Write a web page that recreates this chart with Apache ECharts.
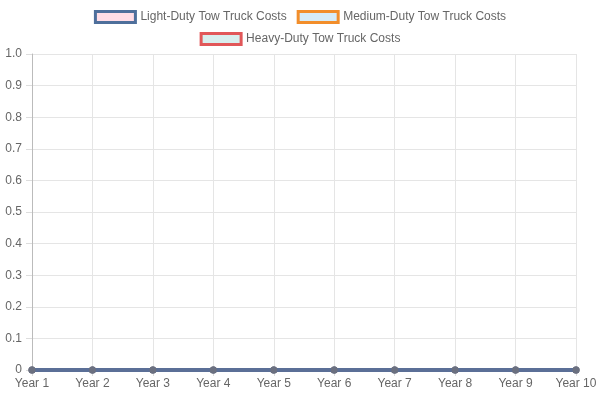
<!DOCTYPE html>
<html>
<head>
<meta charset="utf-8">
<script src="https://cdn.jsdelivr.net/npm/echarts@6/dist/echarts.min.js"></script>
<style>
  html, body { margin: 0; padding: 0; background: #fff; }
  #main { width: 600px; height: 400px; }
</style>
</head>
<body>
<div id="main"></div>
<script>
const years = ['Year 1', 'Year 2', 'Year 3', 'Year 4', 'Year 5', 'Year 6', 'Year 7', 'Year 8', 'Year 9', 'Year 10']
const lightDuty = [0, 0, 0, 0, 0, 0, 0, 0, 0, 0]
const mediumDuty = [0, 0, 0, 0, 0, 0, 0, 0, 0, 0]
const heavyDuty = [0, 0, 0, 0, 0, 0, 0, 0, 0, 0]

const chart = echarts.init(document.getElementById('main'))

const font = 'Liberation Sans, Arial, sans-serif'
const legendBase = {
  icon: 'rect',
  itemWidth: 40,
  itemHeight: 11,
  itemGap: 10,
  textStyle: { color: '#666', fontSize: 12, fontFamily: font }
}

function makeSeries (name, data, line, z, width) {
  return {
    name: name,
    type: 'line',
    data: data,
    z: z,
    clip: false,
    symbol: 'circle',
    symbolSize: 7,
    lineStyle: { color: line, width: width },
    itemStyle: { color: '#6b7080' },
    emphasis: { disabled: true }
  }
}

// light-duty sits on top and hides the other two
const series = [
  makeSeries('Light-Duty Tow Truck Costs', lightDuty, '#5b6f97', 5, 4),
  makeSeries('Medium-Duty Tow Truck Costs', mediumDuty, '#f28e2b', 4, 2),
  makeSeries('Heavy-Duty Tow Truck Costs', heavyDuty, '#e15759', 3, 2)
]

chart.setOption({
  animation: false,
  textStyle: { fontFamily: font },
  legend: [
    Object.assign({}, legendBase, {
      top: 5,
      left: 'center',
      data: [
        { name: 'Light-Duty Tow Truck Costs', itemStyle: { color: '#ffdde6', borderColor: '#4e6f9b', borderWidth: 3 } },
        { name: 'Medium-Duty Tow Truck Costs', itemStyle: { color: '#d6ecf8', borderColor: '#f28e2b', borderWidth: 3 } }
      ]
    }),
    Object.assign({}, legendBase, {
      top: 27,
      left: 'center',
      data: [
        { name: 'Heavy-Duty Tow Truck Costs', itemStyle: { color: '#d8eeee', borderColor: '#e15759', borderWidth: 3 } }
      ]
    })
  ],
  grid: { left: 32, right: 24, top: 54, bottom: 30 },
  xAxis: {
    type: 'category',
    data: years,
    boundaryGap: false,
    axisLine: { show: false },
    axisTick: { show: true, length: 6, lineStyle: { color: '#ddd' } },
    axisLabel: { color: '#666', fontSize: 12, margin: 8 },
    splitLine: { show: true, lineStyle: { color: '#e5e5e5' } }
  },
  yAxis: {
    type: 'value',
    min: 0,
    max: 1,
    interval: 0.1,
    axisLine: { show: true, lineStyle: { color: '#bbb' } },
    axisTick: { show: true, length: 6, lineStyle: { color: '#ddd' } },
    axisLabel: { color: '#666', fontSize: 12, margin: 10, formatter: v => (v === 0 ? '0' : v.toFixed(1)) },
    splitLine: { show: true, lineStyle: { color: '#e5e5e5' } }
  },
  series: series
})
</script>
</body>
</html>
